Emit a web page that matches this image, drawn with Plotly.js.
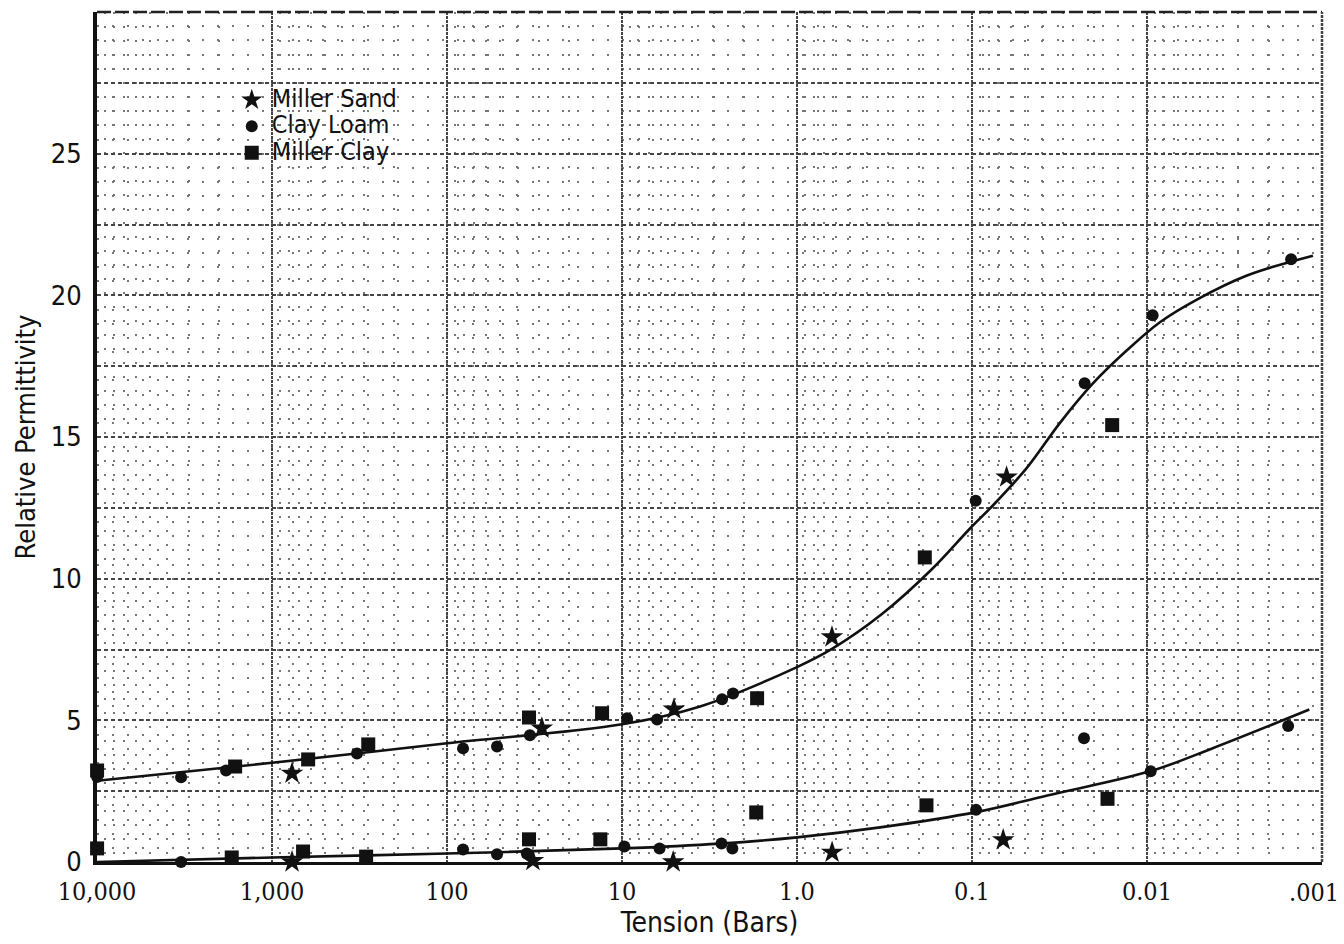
<!DOCTYPE html>
<html>
<head>
<meta charset="utf-8">
<script src="https://cdn.plot.ly/plotly-3.0.1.min.js"></script>
<style>html,body{margin:0;padding:0;background:#fff;}#chart{width:1344px;height:944px;}</style>
</head>
<body>
<div id="chart"></div>
<script>
// ---- data (tension in bars, relative permittivity) ----
const sandTension = [769, 28.7, 5.05, 0.631, 0.0634, 769, 32.3, 5.1, 0.63, 0.0663];
const sandPerm    = [3.13, 4.72, 5.39, 7.94, 13.58, 0.0, 0.05, 0.0, 0.34, 0.78];

const loamTension = [10000, 3311, 1832, 327, 81, 51.8, 33.6, 9.36, 6.3, 2.68, 2.32, 0.0952, 0.0227, 0.00928, 0.0015,
                     3311, 81, 51.8, 35, 9.7, 6.1, 2.7, 2.34, 0.0947, 0.0229, 0.00952, 0.00156];
const loamPerm    = [3.0, 2.99, 3.23, 3.83, 4.01, 4.08, 4.47, 5.07, 5.03, 5.74, 5.95, 12.75, 16.9, 19.3, 21.27,
                     0.0, 0.44, 0.27, 0.3, 0.55, 0.48, 0.65, 0.48, 1.84, 4.37, 3.2, 4.8];

const clayTension = [10000, 1626, 622, 282, 34, 13, 1.69, 0.186, 0.0158,
                     10000, 1700, 665, 290, 34, 13.3, 1.71, 0.182, 0.0168];
const clayPerm    = [3.23, 3.37, 3.62, 4.15, 5.1, 5.25, 5.78, 10.75, 15.42,
                     0.48, 0.16, 0.37, 0.19, 0.8, 0.8, 1.75, 2.0, 2.23];

// fitted curves
const upperCurveTension = [10000, 1000, 100, 10, 3.58, 1.0, 0.631, 0.327, 0.169, 0.1026, 0.0755, 0.0487, 0.0314, 0.0203, 0.01306, 0.00843, 0.00518, 0.00268, 0.001125];
const upperCurvePerm    = [2.87, 3.5, 4.19, 4.86, 5.49, 6.88, 7.52, 8.75, 10.34, 11.77, 12.6, 13.9, 15.5, 16.9, 18.05, 19.05, 19.85, 20.7, 21.4];
const lowerCurveTension = [10000, 1000, 100, 10, 2.75, 1.0, 0.327, 0.095, 0.0371, 0.0095, 0.00427, 0.00118];
const lowerCurvePerm    = [0.0, 0.16, 0.3, 0.48, 0.65, 0.87, 1.23, 1.76, 2.35, 3.21, 4.0, 5.38];

// x tick labels; the last one (.001, at the right edge) is drawn as an annotation so it is not cut off
const xTickVals = [10000, 1000, 100, 10, 1, 0.1, 0.01, 0.001];
const xTickText = ['10,000', '1,000', '100', '10', '1.0', '0.1', '0.01', ''];
const xEdgeTickVal = 0.001;
const xEdgeTickText = '.001';
const yTickVals = [0, 2.5, 5, 7.5, 10, 12.5, 15, 17.5, 20, 22.5, 25, 27.5];
const yTickText = ['0', '', '5', '', '10', '', '15', '', '20', '', '25', ''];

const seriesNames = ['Miller Sand', 'Clay Loam', 'Miller Clay'];
const legendLabel = (s) => '<span style="font-size:25px">' + s + '</span>';

const lineStyle = {color: '#111', width: 2.6, shape: 'spline', smoothing: 1.0};
const traces = [
  {x: upperCurveTension, y: upperCurvePerm, mode: 'lines', line: lineStyle, showlegend: false, hoverinfo: 'skip'},
  {x: lowerCurveTension, y: lowerCurvePerm, mode: 'lines', line: lineStyle, showlegend: false, hoverinfo: 'skip'},
  {x: sandTension, y: sandPerm, mode: 'markers', name: legendLabel(seriesNames[0]), cliponaxis: false,
   marker: {symbol: 'star', size: 17, color: '#111'}},
  {x: loamTension, y: loamPerm, mode: 'markers', name: legendLabel(seriesNames[1]), cliponaxis: false,
   marker: {symbol: 'circle', size: 12, color: '#111'}},
  {x: clayTension, y: clayPerm, mode: 'markers', name: legendLabel(seriesNames[2]), cliponaxis: false,
   marker: {symbol: 'square', size: 14, color: '#111'}}
];

const sansC = 'DejaVu Sans Condensed, DejaVu Sans, sans-serif';
const serifC = 'DejaVu Serif Condensed, DejaVu Serif, Liberation Serif, serif';
const xTickFont = {family: serifC, size: 25, color: '#111'};

const layout = {
  width: 1344, height: 944,
  margin: {l: 97, r: 22, t: 12, b: 82},
  paper_bgcolor: '#fff', plot_bgcolor: '#fff',
  showlegend: true,
  legend: {x: 0.11, y: 0.918, xanchor: 'left', yanchor: 'top', bgcolor: 'rgba(0,0,0,0)',
           borderwidth: 0, font: {family: sansC, size: 18, color: '#111'}, tracegroupgap: 0},
  xaxis: {
    type: 'log', range: [4.0005, -3.0005], autorange: false,
    tickmode: 'array', tickvals: xTickVals, ticktext: xTickText,
    ticks: '', ticklabelstandoff: 5,
    tickfont: xTickFont,
    showline: true, linecolor: '#111', linewidth: 3, zeroline: false,
    showgrid: true, gridcolor: '#444', gridwidth: 2, griddash: '3px,1px',
    minor: {dtick: 'D1', showgrid: true, gridcolor: '#777', gridwidth: 2, griddash: '2px,12px', ticks: ''},
    title: {text: 'Tension (Bars)', font: {family: sansC, size: 28, color: '#111'}, standoff: 6}
  },
  yaxis: {
    range: [0, 30], autorange: false,
    tickmode: 'array', tickvals: yTickVals, ticktext: yTickText,
    ticks: '', ticklabelstandoff: 6,
    tickfont: {family: sansC, size: 27, color: '#111'},
    showline: true, linecolor: '#111', linewidth: 4, zeroline: false,
    showgrid: true, gridcolor: '#444', gridwidth: 2, griddash: '4px,3px',
    minor: {tickmode: 'linear', tick0: 0, dtick: 0.5, showgrid: true, gridcolor: '#777', gridwidth: 2, griddash: '2px,13px', ticks: ''},
    title: {text: 'Relative Permittivity', font: {family: sansC, size: 27, color: '#111'}, standoff: 8}
  },
  annotations: [
    {x: Math.log10(xEdgeTickVal), xref: 'x', y: 0, yref: 'paper', text: xEdgeTickText,
     showarrow: false, xanchor: 'center', yanchor: 'top', xshift: -8, yshift: -14, font: xTickFont}
  ],
  shapes: [
    {type: 'line', xref: 'paper', yref: 'paper', x0: 0, x1: 1, y0: 1, y1: 1,
     line: {color: '#222', width: 2.5, dash: '14px,4px'}},
    {type: 'line', xref: 'paper', yref: 'paper', x0: 1, x1: 1, y0: 0, y1: 1,
     line: {color: '#444', width: 2.5, dash: '3px,1px'}}
  ]
};

Plotly.newPlot('chart', traces, layout, {staticPlot: true, displayModeBar: false});
</script>
</body>
</html>
